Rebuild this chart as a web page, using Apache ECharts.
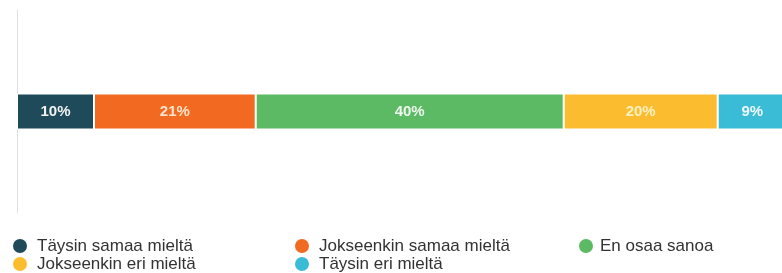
<!DOCTYPE html>
<html><head><meta charset="utf-8">
<script src="https://cdn.jsdelivr.net/npm/echarts@6/dist/echarts.min.js"></script>
<style>html,body{margin:0;padding:0;background:#fff}#c{width:782px;height:273px}</style>
</head><body><div id="c"></div>
<script>
const categories = [''];
const seriesNames = ['Täysin samaa mieltä','Jokseenkin samaa mieltä','En osaa sanoa','Jokseenkin eri mieltä','Täysin eri mieltä'];
const values = [10, 21, 40, 20, 9];
const colors = ['#1e4a5a','#f26a22','#5cba64','#fbbd2f','#3bbcd6'];
const labelColors = ['#f2f2f2','#fbe3c8','#eef7ee','#fdf0c0','#eefaff'];

const chart = echarts.init(document.getElementById('c'), null, {renderer:'canvas'});
const legendPos = [
  {left: 11, top: 237}, {left: 293, top: 237}, {left: 577, top: 237},
  {left: 11, top: 255}, {left: 293, top: 255}
];
chart.setOption({
  animation: false,
  grid: {left: 17, width: 770, top: 10, bottom: 60, outerBoundsMode: 'none', containLabel: false},
  xAxis: {type: 'value', min: 0, max: 100, show: false},
  yAxis: {type: 'category', data: categories, axisLine: {show: true, lineStyle: {color: '#e0e0e0', width: 1}}, axisTick: {show: false}, axisLabel: {show: false}},
  legend: seriesNames.map((n, i) => ({
    data: [n], left: legendPos[i].left, top: legendPos[i].top, icon: 'circle', itemWidth: 16, itemHeight: 16, itemGap: 0,
    textStyle: {fontFamily: 'Liberation Sans, Arial, sans-serif', fontSize: 17, color: '#333', padding: [0,0,0,i === 2 ? 1 : 4]},
    padding: 0
  })),
  series: seriesNames.map((n, i) => ({
    name: n, type: 'bar', stack: 'total', barWidth: 36,
    data: [values[i]],
    itemStyle: {color: colors[i], borderColor: '#fff', borderWidth: 1},
    label: {show: true, position: 'inside', formatter: '{c}%', color: labelColors[i], fontWeight: 'bold', fontSize: 15, fontFamily: 'Liberation Sans, Arial, sans-serif'}
  }))
});
</script></body></html>
